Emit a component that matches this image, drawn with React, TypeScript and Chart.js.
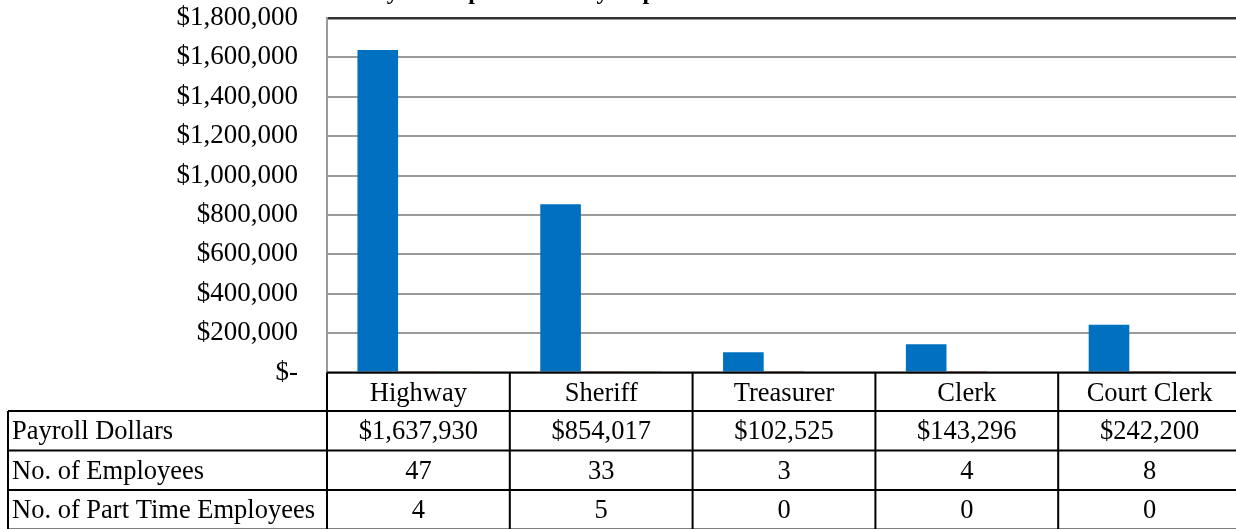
import React, { useEffect, useRef } from 'react';
import { Chart, registerables } from 'chart.js';

Chart.register(...registerables);

const chartTitle = 'Payroll Expenditures by Department';
const departments = ['Highway', 'Sheriff', 'Treasurer', 'Clerk', 'Court Clerk'];
const seriesNames = ['Payroll Dollars', 'No. of Employees', 'No. of Part Time Employees'];
const payrollDollars = [1637930, 854017, 102525, 143296, 242200];
const employees = [47, 33, 3, 4, 8];
const partTimeEmployees = [4, 5, 0, 0, 0];
const yMin = 0;
const yMax = 1800000;
const yStep = 200000;

const FONT = '"Liberation Serif", "Times New Roman", Times, serif';

const withCommas = (v: number) => String(Math.round(v)).replace(/\B(?=(\d{3})+(?!\d))/g, ',');
const fmtMoney = (v: number) => (v === 0 ? '$-' : '$' + withCommas(v));

const titlePlugin = {
  id: 'cutTitle',
  afterDraw(chart: any) {
    const ctx = chart.ctx;
    ctx.save();
    ctx.font = `bold 24px ${FONT}`;
    ctx.fillStyle = '#000';
    ctx.textAlign = 'left';
    ctx.textBaseline = 'alphabetic';
    ctx.fillText(chartTitle, 360, -1);
    ctx.restore();
  },
};

const tablePlugin = {
  id: 'dataTable',
  afterDraw(chart: any) {
    const ctx = chart.ctx;
    const x = chart.scales.x;
    const area = chart.chartArea;
    const n = departments.length;
    const colW = (x.right - x.left) / n;
    const top = area.bottom;
    const headerH = 38.5;
    const rowH = 39.5;
    const tableLeft = 8;
    const rows = [
      { label: seriesNames[0], cells: payrollDollars.map(fmtMoney) },
      { label: seriesNames[1], cells: employees.map(String) },
      { label: seriesNames[2], cells: partTimeEmployees.map(String) },
    ];
    const bottom = top + headerH + rows.length * rowH;
    ctx.save();
    ctx.strokeStyle = '#000';
    ctx.lineWidth = 2;
    ctx.beginPath();
    ctx.moveTo(x.left, top);
    ctx.lineTo(x.right + 2, top);
    for (let r = 0; r <= rows.length; r++) {
      const y = top + headerH + r * rowH;
      ctx.moveTo(tableLeft, y);
      ctx.lineTo(x.right + 2, y);
    }
    ctx.moveTo(tableLeft, top + headerH);
    ctx.lineTo(tableLeft, bottom);
    for (let i = 0; i <= n; i++) {
      const bx = x.left + i * colW;
      ctx.moveTo(bx, top);
      ctx.lineTo(bx, bottom);
    }
    ctx.stroke();

    ctx.font = `26.5px ${FONT}`;
    ctx.fillStyle = '#000';
    ctx.textBaseline = 'alphabetic';
    ctx.textAlign = 'center';
    departments.forEach((d, i) => {
      ctx.fillText(d, x.getPixelForValue(i), top + headerH / 2 + 9);
    });
    rows.forEach((row, r) => {
      const cy = top + headerH + r * rowH + rowH / 2 + 8.5;
      ctx.textAlign = 'left';
      ctx.fillText(row.label, tableLeft + 4, cy);
      ctx.textAlign = 'center';
      row.cells.forEach((c, i) => {
        ctx.fillText(c, x.getPixelForValue(i), cy);
      });
    });
    ctx.restore();
  },
};

export default function App() {
  const ref = useRef<HTMLCanvasElement | null>(null);

  useEffect(() => {
    if (!ref.current) return;
    const chart = new Chart(ref.current, {
      type: 'bar',
      data: {
        labels: departments,
        datasets: [
          { label: seriesNames[0], data: payrollDollars, backgroundColor: '#0070C0' },
          { label: seriesNames[1], data: employees, backgroundColor: '#C0504D' },
          { label: seriesNames[2], data: partTimeEmployees, backgroundColor: '#9BBB59' },
        ],
      },
      options: {
        responsive: false,
        animation: false,
        devicePixelRatio: 1,
        categoryPercentage: 2 / 3,
        barPercentage: 1,
        layout: { padding: { top: 18, bottom: 156.5, left: 0, right: 0 } },
        plugins: {
          legend: { display: false },
          tooltip: { enabled: false },
          title: { display: false },
        },
        scales: {
          x: { display: false, grid: { display: false } },
          y: {
            min: yMin,
            max: yMax,
            afterFit: (s: any) => {
              s.width = 327;
              s.paddingTop = 0;
              s.paddingBottom = 0;
            },
            ticks: {
              stepSize: yStep,
              callback: (v: any) => fmtMoney(Number(v)),
              color: '#000',
              font: { family: FONT, size: 27 },
              padding: 29,
            },
            grid: {
              drawTicks: false,
              color: (c: any) => (c.tick && c.tick.value === yMax ? '#333333' : '#9a9a9a'),
              lineWidth: (c: any) => (c.tick && c.tick.value === yMax ? 2.5 : 2),
            },
            border: { color: '#9a9a9a', width: 2 },
          },
        },
      },
      plugins: [titlePlugin, tablePlugin],
    });
    return () => chart.destroy();
  }, []);

  return (
    <div style={{ position: 'absolute', left: 0, top: 0, width: 1236, height: 529, overflow: 'hidden', background: '#fff' }}>
      <canvas ref={ref} width={1241} height={529} style={{ display: 'block', width: 1241, height: 529 }} />
    </div>
  );
}
